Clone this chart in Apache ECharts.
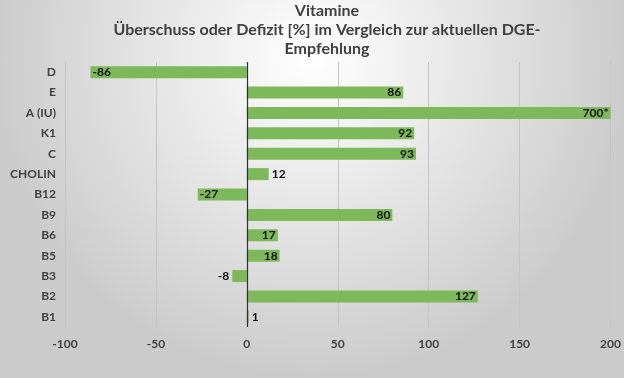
<!DOCTYPE html>
<html>
<head>
<meta charset="utf-8">
<script src="https://cdn.jsdelivr.net/npm/echarts@6/dist/echarts.min.js"></script>
<style>
html,body{margin:0;padding:0;}
#c{width:624px;height:378px;}
</style>
</head>
<body>
<div id="c"></div>
<script>
// Categories top to bottom
var categories = ['D', 'E', 'A (IU)', 'K1', 'C', 'CHOLIN', 'B12', 'B9', 'B6', 'B5', 'B3', 'B2', 'B1'];
// Bar lengths as drawn (A is cut off at the axis maximum of 200)
var values = [-86, 86, 200, 92, 93, 12, -27, 80, 17, 18, -8, 127, 1];
// Data label texts
var labelTexts = ['-86', '86', '700*', '92', '93', '12', '-27', '80', '17', '18', '-8', '127', '1'];
// Label placement per bar
var labelPos = ['insideLeft', 'insideRight', 'insideRight', 'insideRight', 'insideRight', 'right', 'insideLeft', 'insideRight', 'insideRight', 'insideRight', 'left', 'insideRight', 'right'];
// Axis ticks
var xTicks = { min: -100, max: 200, interval: 50 };
var titleText = 'Vitamine\n\u00dcberschuss oder Defizit [%] im Vergleich zur aktuellen DGE-\nEmpfehlung';

var FONT = 'Lato';
var chart = echarts.init(document.getElementById('c'));
var data = values.map(function (v, i) {
  return {
    value: v,
    label: {
      show: true,
      position: labelPos[i],
      distance: labelPos[i].indexOf('inside') === 0 ? 2 : 3,
      formatter: labelTexts[i]
    }
  };
});
chart.setOption({
  backgroundColor: {
    type: 'radial', x: 0.5, y: 0.15, r: 0.85,
    colorStops: [{ offset: 0, color: '#ffffff' }, { offset: 1, color: '#cbcbcb' }]
  },
  title: {
    text: titleText,
    left: 327,
    textAlign: 'center',
    top: 1,
    padding: 0,
    textStyle: { fontFamily: FONT, fontSize: 16, fontWeight: 'bold', color: '#404040', lineHeight: 19 }
  },
  grid: { left: 65, right: 12, top: 62, bottom: 51, containLabel: false },
  xAxis: {
    type: 'value',
    min: xTicks.min, max: xTicks.max, interval: xTicks.interval,
    axisLine: { show: false },
    axisTick: { show: false },
    splitLine: { show: true, lineStyle: { color: '#c4c4c4', width: 1 } },
    axisLabel: { fontFamily: FONT, fontSize: 12, fontWeight: 'bold', color: '#404040', margin: 11 }
  },
  yAxis: {
    type: 'category',
    data: categories,
    inverse: true,
    axisLine: { show: false, onZero: false },
    axisTick: { show: false },
    axisLabel: { fontFamily: FONT, fontSize: 12, fontWeight: 'bold', color: '#404040', margin: 9 }
  },
  series: [{
    type: 'bar',
    data: data,
    barWidth: 12,
    itemStyle: { color: '#7db95a' },
    label: { fontFamily: FONT, fontSize: 12, fontWeight: 'bold', color: '#111111' },
    markLine: {
      silent: true,
      symbol: 'none',
      label: { show: false },
      lineStyle: { color: '#303030', width: 1.2, type: 'solid' },
      data: [{ xAxis: 0 }],
      animation: false
    },
    animation: false
  }]
});
</script>
</body>
</html>
